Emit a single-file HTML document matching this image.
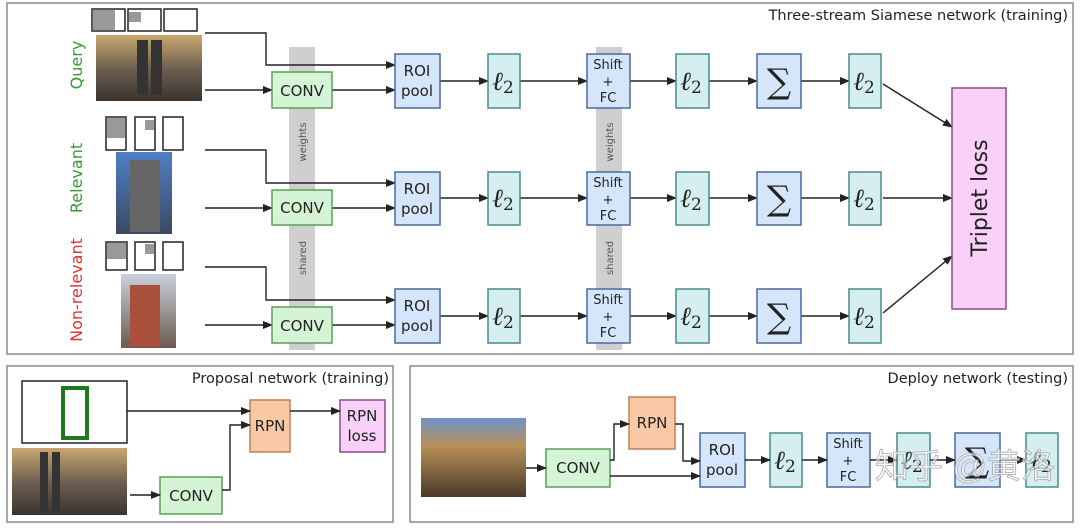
<!DOCTYPE html>
<html><head><meta charset="utf-8"><style>
html,body{margin:0;padding:0;background:#fff;}
svg{display:block;font-family:"DejaVu Sans","Liberation Sans",sans-serif;}
</style></head><body>
<svg width="1080" height="529" viewBox="0 0 1080 529" xmlns="http://www.w3.org/2000/svg">
<defs>
<marker id="a" markerWidth="10" markerHeight="8" refX="9" refY="4" orient="auto" markerUnits="userSpaceOnUse"><path d="M0,0 L10,4 L0,8 z" fill="#222"/></marker>
<linearGradient id="q" x1="0" y1="0" x2="0" y2="1"><stop offset="0" stop-color="#c9a870"/><stop offset="0.5" stop-color="#6e6050"/><stop offset="1" stop-color="#3a3430"/></linearGradient>
<linearGradient id="r" x1="0" y1="0" x2="0" y2="1"><stop offset="0" stop-color="#4f7fc7"/><stop offset="1" stop-color="#3a4a60"/></linearGradient>
<linearGradient id="n" x1="0" y1="0" x2="0" y2="1"><stop offset="0" stop-color="#c9d2dc"/><stop offset="1" stop-color="#6a5a50"/></linearGradient>
<linearGradient id="o" x1="0" y1="0" x2="0" y2="1"><stop offset="0" stop-color="#6f93c8"/><stop offset="0.35" stop-color="#b89058"/><stop offset="1" stop-color="#4a3a28"/></linearGradient>
</defs>
<g fill="none" stroke="#888" stroke-width="1.5">
<rect x="7" y="3" width="1066" height="351"/>
<rect x="7" y="366" width="386" height="156"/>
<rect x="410" y="366" width="663" height="156"/>
</g>
<g font-size="14.5" fill="#222" text-anchor="end">
<text x="1068" y="20">Three-stream Siamese network (training)</text>
<text x="389" y="383">Proposal network (training)</text>
<text x="1068" y="383">Deploy network (testing)</text>
</g>
<rect x="289" y="47" width="26" height="303" fill="#cfcfcf"/>
<rect x="596" y="47" width="26" height="303" fill="#cfcfcf"/>
<g font-size="10" fill="#555" text-anchor="middle">
<text transform="translate(306,142) rotate(-90)">weights</text>
<text transform="translate(306,258) rotate(-90)">shared</text>
<text transform="translate(613,142) rotate(-90)">weights</text>
<text transform="translate(613,258) rotate(-90)">shared</text>
</g>
<g font-size="16" text-anchor="middle">
<text transform="translate(82,65) rotate(-90)" fill="#3a9a3a">Query</text>
<text transform="translate(82,178) rotate(-90)" fill="#3a9a3a">Relevant</text>
<text transform="translate(82,290) rotate(-90)" fill="#d33">Non-relevant</text>
</g>
<g stroke="#222" stroke-width="1.5" fill="#fff">
<rect x="92" y="9" width="33" height="22"/><rect x="128" y="9" width="33" height="22"/><rect x="164" y="9" width="33" height="22"/>
<rect x="106" y="117" width="20" height="33"/><rect x="135" y="117" width="20" height="33"/><rect x="163" y="117" width="20" height="33"/>
<rect x="106" y="242" width="21" height="28"/><rect x="135" y="242" width="20" height="28"/><rect x="163" y="242" width="20" height="28"/>
</g>
<g fill="#999"><rect x="93" y="10" width="22" height="20"/><rect x="129" y="12" width="12" height="10"/><rect x="107" y="118" width="18" height="20"/><rect x="107" y="243" width="19" height="16"/><rect x="145" y="120" width="9" height="10"/><rect x="145" y="244" width="9" height="10"/></g>
<rect x="96" y="35" width="106" height="66" fill="url(#q)"/>
<rect x="137" y="40" width="11" height="55" fill="#333"/><rect x="151" y="40" width="11" height="55" fill="#333"/>
<rect x="116" y="152" width="56" height="82" fill="url(#r)"/>
<rect x="130" y="160" width="30" height="72" fill="#666"/>
<rect x="121" y="274" width="55" height="74" fill="url(#n)"/>
<rect x="130" y="285" width="30" height="62" fill="#a9503c"/>
<g stroke="#222" stroke-width="1.4" fill="none" marker-end="url(#a)">
<path d="M205,33 H266 V65 H395"/><path d="M205,90 H272"/><path d="M332,90 H395"/>
<path d="M205,150 H266 V183 H395"/><path d="M205,208 H272"/><path d="M332,208 H395"/>
<path d="M205,267 H266 V300 H395"/><path d="M205,325 H272"/><path d="M332,325 H395"/>
<path d="M440,81 H488"/><path d="M520,81 H587"/><path d="M630,81 H676"/><path d="M709,81 H757"/><path d="M801,81 H849"/>
<path d="M440,198 H488"/><path d="M520,198 H587"/><path d="M630,198 H676"/><path d="M709,198 H757"/><path d="M801,198 H849"/>
<path d="M440,316 H488"/><path d="M520,316 H587"/><path d="M630,316 H676"/><path d="M709,316 H757"/><path d="M801,316 H849"/>
<path d="M883,84 L952,127"/><path d="M883,198 H952"/><path d="M883,313 L952,256"/>
</g>
<g stroke-width="1.5">
<g fill="#d5f3d5" stroke="#5a9e5a">
<rect x="272" y="72" width="60" height="36"/><rect x="272" y="190" width="60" height="35"/><rect x="272" y="307" width="60" height="36"/>
<rect x="160" y="477" width="62" height="37"/><rect x="546" y="449" width="64" height="38"/>
</g>
<g fill="#d5e6fb" stroke="#4a6a9e">
<rect x="395" y="54" width="45" height="54"/><rect x="395" y="172" width="45" height="53"/><rect x="395" y="289" width="45" height="54"/>
<rect x="587" y="54" width="43" height="54"/><rect x="587" y="172" width="43" height="53"/><rect x="587" y="289" width="43" height="54"/>
<rect x="757" y="54" width="44" height="54"/><rect x="757" y="172" width="44" height="53"/><rect x="757" y="289" width="44" height="54"/>
<rect x="700" y="433" width="45" height="54"/><rect x="827" y="433" width="43" height="54"/><rect x="955" y="433" width="45" height="54"/>
</g>
<g fill="#d5eef0" stroke="#4a8a8a">
<rect x="488" y="54" width="32" height="54"/><rect x="488" y="172" width="32" height="53"/><rect x="488" y="289" width="32" height="54"/>
<rect x="676" y="54" width="33" height="54"/><rect x="676" y="172" width="33" height="53"/><rect x="676" y="289" width="33" height="54"/>
<rect x="849" y="54" width="32" height="54"/><rect x="849" y="172" width="32" height="53"/><rect x="849" y="289" width="32" height="54"/>
<rect x="770" y="433" width="32" height="54"/><rect x="897" y="433" width="33" height="54"/><rect x="1026" y="433" width="32" height="54"/>
</g>
<rect x="952" y="88" width="54" height="221" fill="#f8d0f8" stroke="#8a4a8a"/>
<rect x="340" y="400" width="45" height="52" fill="#f8d0f8" stroke="#8a4a8a"/>
<g fill="#f9c9a6" stroke="#c08050"><rect x="250" y="400" width="40" height="52"/><rect x="629" y="397" width="46" height="52"/></g>
</g>
<g font-size="15" fill="#222" text-anchor="middle">
<text x="302" y="96">CONV</text><text x="302" y="213">CONV</text><text x="302" y="331">CONV</text>
<text x="191" y="501">CONV</text><text x="578" y="473">CONV</text>
<text x="417" y="76">ROI</text><text x="417" y="96">pool</text>
<text x="417" y="194">ROI</text><text x="417" y="214">pool</text>
<text x="417" y="311">ROI</text><text x="417" y="331">pool</text>
<text x="722" y="455">ROI</text><text x="722" y="475">pool</text>
<text x="270" y="431">RPN</text><text x="652" y="428">RPN</text>
<text x="362" y="421">RPN</text><text x="362" y="441">loss</text>
<text transform="translate(987,198) rotate(-90)" font-size="22">Triplet loss</text>
</g>
<g font-size="13" fill="#222" text-anchor="middle">
<text x="608" y="69">Shift</text><text x="608" y="86">+</text><text x="608" y="102">FC</text>
<text x="608" y="187">Shift</text><text x="608" y="204">+</text><text x="608" y="220">FC</text>
<text x="608" y="304">Shift</text><text x="608" y="321">+</text><text x="608" y="337">FC</text>
<text x="848" y="448">Shift</text><text x="848" y="465">+</text><text x="848" y="481">FC</text>
</g>
<g font-family="'DejaVu Serif','Liberation Serif',serif" fill="#222" text-anchor="middle">
<g font-size="26" font-style="italic">
<text x="503" y="90">ℓ<tspan font-size="17" font-style="normal" dy="3">2</tspan></text>
<text x="503" y="207">ℓ<tspan font-size="17" font-style="normal" dy="3">2</tspan></text>
<text x="503" y="325">ℓ<tspan font-size="17" font-style="normal" dy="3">2</tspan></text>
<text x="691" y="90">ℓ<tspan font-size="17" font-style="normal" dy="3">2</tspan></text>
<text x="691" y="207">ℓ<tspan font-size="17" font-style="normal" dy="3">2</tspan></text>
<text x="691" y="325">ℓ<tspan font-size="17" font-style="normal" dy="3">2</tspan></text>
<text x="864" y="90">ℓ<tspan font-size="17" font-style="normal" dy="3">2</tspan></text>
<text x="864" y="207">ℓ<tspan font-size="17" font-style="normal" dy="3">2</tspan></text>
<text x="864" y="325">ℓ<tspan font-size="17" font-style="normal" dy="3">2</tspan></text>
<text x="785" y="469">ℓ<tspan font-size="17" font-style="normal" dy="3">2</tspan></text>
<text x="912" y="469">ℓ<tspan font-size="17" font-style="normal" dy="3">2</tspan></text>
<text x="1041" y="469">ℓ<tspan font-size="17" font-style="normal" dy="3">2</tspan></text>
</g>
<g font-size="34"><text x="779" y="93">∑</text><text x="779" y="210">∑</text><text x="779" y="328">∑</text><text x="977" y="472">∑</text></g>
</g>
<rect x="22" y="381" width="105" height="62" fill="#fff" stroke="#222" stroke-width="1.5"/>
<rect x="63" y="388" width="24" height="50" fill="none" stroke="#1e7a1e" stroke-width="4"/>
<rect x="12" y="448" width="115" height="67" fill="url(#q)"/>
<rect x="40" y="452" width="8" height="60" fill="#333"/><rect x="52" y="452" width="8" height="60" fill="#333"/>
<g stroke="#222" stroke-width="1.4" fill="none" marker-end="url(#a)">
<path d="M127,411 H250"/><path d="M130,495 H160"/><path d="M222,490 H230 V425 H250"/><path d="M290,411 H340"/>
<path d="M526,468 H546"/><path d="M610,460 H614 V424 H629"/><path d="M675,424 H683 V461 H700"/><path d="M610,476 H700"/>
<path d="M745,460 H770"/><path d="M802,460 H827"/><path d="M870,460 H897"/><path d="M930,460 H955"/><path d="M1000,460 H1026"/>
</g>
<rect x="421" y="418" width="105" height="79" fill="url(#o)"/>
<text x="965" y="478" font-family="'Liberation Sans','Noto Sans CJK SC',sans-serif" font-size="34" fill="#fff" fill-opacity="0.6" stroke="#aaa" stroke-width="0.8" text-anchor="middle">知乎 @黄洛</text>
</svg>
</body></html>
